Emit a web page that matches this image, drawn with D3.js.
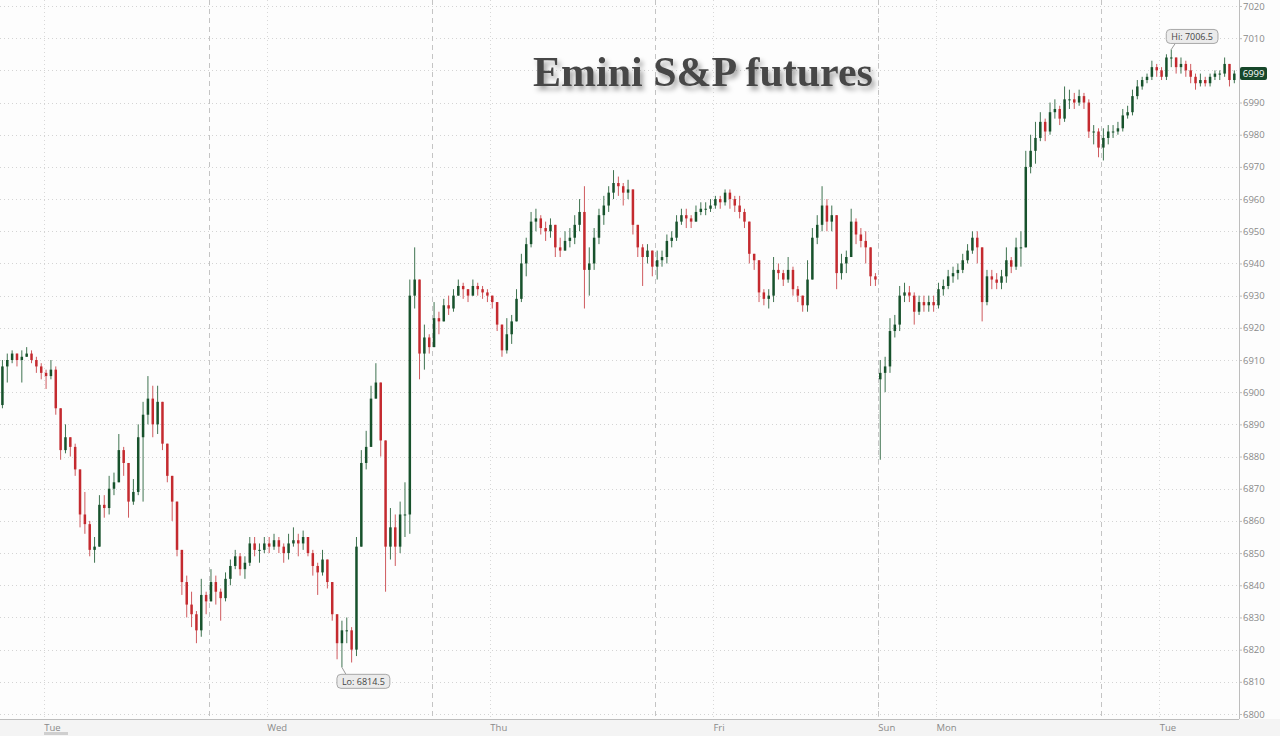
<!DOCTYPE html>
<html>
<head>
<meta charset="utf-8">
<script src="https://cdn.jsdelivr.net/npm/d3@7/dist/d3.min.js"></script>
<style>
  body { margin: 0; background: #fdfdfd; }
  svg { display: block; font-family: "Open Sans", "Noto Sans", sans-serif; }
</style>
</head>
<body>
<svg width="1280" height="736"></svg>
<script>
var svg = d3.select("svg"),
    width = +svg.attr("width"),
    height = +svg.attr("height");

// half-hour bars, Mon evening session -> Tue morning (gaps between sessions removed)
var closes = [
  6908,6910,6912,6910,6911,6912,6910,6908,6906,6905,6907,6895,6882,6886,6883,6876,6862,6859,6851,6852,6865,6864,6870,6872,6882,6878,6866,6869,6886,6893,6898,6890,6897,6884,6874,6866,6851,6841,6834,6831,6826,6837,6835,
  6841,6838,6836,6842,6846,6849,6845,6847,6853,6851,6851,6853,6852,6854,6852,6850,6853,6854,6853,6855,6850,6846,6844,6848,6841,6831,6822,6826,6826,6820,6852,6878,6883,6898,6903,6885,6852,6858,6852,6862,6862,6930,6935,6912,6917,6914,
  6923,6922,6927,6926,6930,6933,6932,6930,6933,6932,6931,6930,6928,6921,6913,6918,6922,6929,6940,6946,6953,6954,6951,6950,6952,6945,6944,6947,6948,6952,6956,6938,6940,6948,6955,6958,6962,6965,6964,6962,6963,6952,6945,6942,6944,6939,
  6941,6942,6947,6948,6953,6955,6954,6953,6956,6957,6957,6958,6960,6959,6962,6960,6958,6956,6953,6943,6941,6931,6929,6930,6938,6937,6935,6938,6932,6930,6927,6935,6948,6952,6958,6953,6955,6937,6940,6942,6953,6949,6947,6945,6936,6935,
  6906,6908,6919,6921,6930,6931,6930,6925,6928,6927,6928,6927,6932,6933,6936,6937,6938,6941,6944,6948,6945,6928,6936,6935,6934,6936,6941,6939,6945,6945,6970,6975,6979,6984,6981,6987,6988,6985,6991,6991,6990,6992,6990,6981,6981,6976,
  6979,6981,6981,6982,6986,6987,6992,6995,6997,6998,7001,7000,6998,7004,7004,7001,7002,7000,6998,6996,6997,6996,6998,6999,6999,7002,6997,6999
];
var highs = [
  6910,6912,6913,6912,6913,6914,6913,6911,6909,6907,6910,6908,6892,6890,6886,6884,6876,6869,6860,6855,6868,6868,6874,6875,6887,6883,6876,6873,6890,6897,6905,6902,6902,6897,6884,6872,6862,6850,6843,6838,6832,6842,6838,
  6845,6843,6839,6844,6848,6851,6850,6849,6855,6855,6853,6855,6855,6856,6855,6853,6856,6858,6856,6857,6855,6851,6847,6851,6847,6841,6830,6829,6830,6827,6855,6882,6888,6902,6909,6903,6870,6864,6862,6866,6872,6935,6945,6930,6921,6918,
  6928,6925,6929,6930,6932,6935,6934,6932,6935,6934,6933,6932,6930,6927,6920,6923,6924,6932,6943,6948,6956,6957,6955,6953,6954,6950,6948,6950,6951,6955,6960,6964,6945,6951,6957,6961,6964,6969,6967,6965,6966,6963,6950,6946,6946,6944,
  6944,6944,6949,6950,6955,6957,6957,6955,6958,6959,6959,6960,6961,6961,6963,6963,6961,6961,6957,6953,6943,6940,6932,6932,6942,6940,6938,6942,6939,6933,6930,6941,6951,6955,6964,6960,6958,6955,6943,6944,6957,6954,6951,6950,6942,6937,
  6910,6911,6923,6924,6933,6934,6933,6931,6930,6930,6930,6930,6934,6935,6938,6939,6940,6943,6946,6950,6950,6945,6938,6938,6937,6938,6945,6942,6948,6950,6975,6980,6984,6987,6985,6990,6991,6989,6995,6994,6993,6994,6993,6991,6983,6982,
  6982,6983,6983,6984,6988,6989,6994,6997,6998,6999,7003,7002,7001,7005,7006.5,7004,7004,7003,7002,6999,6999,6998,6999,7000,7000,7004,7001,7000
];
var lows = [
  6895,6903,6909,6908,6903,6911,6909,6906,6904,6901,6904,6893,6879,6881,6880,6874,6858,6856,6849,6847,6858,6861,6862,6868,6876,6874,6861,6865,6868,6866,6890,6886,6887,6882,6872,6860,6849,6837,6830,6827,6822,6824,6831,
  6836,6834,6829,6835,6840,6845,6843,6842,6846,6849,6847,6850,6850,6851,6850,6847,6848,6852,6849,6851,6849,6843,6837,6843,6839,6829,6817,6814.5,6822,6816,6818,6855,6876,6887,6900,6880,6838,6848,6846,6850,6855,6856,6926,6904,6907,6912,
  6914,6918,6922,6924,6925,6930,6929,6928,6930,6930,6929,6928,6926,6919,6911,6912,6915,6922,6928,6936,6945,6950,6949,6947,6948,6942,6942,6944,6945,6946,6950,6926,6930,6938,6946,6952,6956,6960,6961,6958,6960,6949,6942,6933,6940,6936,
  6935,6939,6940,6945,6947,6952,6951,6951,6953,6955,6955,6956,6957,6957,6958,6957,6956,6954,6951,6940,6938,6928,6927,6926,6928,6935,6933,6934,6930,6928,6925,6925,6935,6946,6950,6950,6950,6932,6935,6937,6942,6946,6945,6940,6933,6933,
  6879,6900,6906,6917,6919,6928,6928,6921,6924,6925,6925,6925,6926,6930,6932,6934,6935,6937,6940,6943,6940,6922,6927,6932,6932,6932,6934,6937,6938,6939,6950,6968,6971,6978,6978,6980,6985,6983,6984,6988,6988,6989,6988,6979,6977,6973,
  6972,6977,6979,6980,6981,6985,6986,6991,6994,6996,6997,6998,6997,6997,7001,6999,6999,6998,6996,6994,6995,6995,6995,6997,6997,6998,6995,6996
];
// opens after a gap (first bar, Sunday reopen); otherwise open = previous close
var gapOpens = [[0, 6896], [181, 6904]];

var dayLabels = ["Tue", "Wed", "Thu", "Fri", "Sun", "Mon", "Tue"];
var dayTicks  = [9, 55, 101, 147, 181, 193, 239];
var sessionStarts = [43, 89, 135, 181, 227];
var priceTicks = d3.range(6800, 7021, 10);
var lastPrice = 6999;
var title = "Emini S&P futures";

var gapMap = new Map(gapOpens);
var bars = closes.map(function(c, i) {
  var o = gapMap.has(i) ? gapMap.get(i) : closes[i - 1];
  return { i: i, o: o, c: c,
           h: Math.max(highs[i], o, c),
           l: Math.min(lows[i], o, c) };
});

var plotRight = 1239, plotBottom = 719;
var x = d3.scaleLinear().domain([0, 255]).range([0, 1236.75]);
var y = d3.scaleLinear().domain([6800, 7020]).range([714, 6]);

// bottom strip
svg.append("rect").attr("x", 0).attr("y", plotBottom).attr("width", width).attr("height", height - plotBottom)
  .attr("fill", "#f4f4f4");
svg.append("rect").attr("x", 44).attr("y", 732).attr("width", 24).attr("height", 3).attr("fill", "#cfcfcf");

// grid
var grid = svg.append("g");
grid.selectAll(".hg").data(priceTicks).enter().append("line")
  .attr("x1", 0).attr("x2", plotRight)
  .attr("y1", function(d) { return Math.round(y(d)) + 0.5; })
  .attr("y2", function(d) { return Math.round(y(d)) + 0.5; })
  .attr("stroke", "#d4d4d4").attr("stroke-dasharray", "1,3");
grid.selectAll(".vg").data(dayTicks).enter().append("line")
  .attr("x1", function(d) { return Math.round(x(d)) + 0.5; })
  .attr("x2", function(d) { return Math.round(x(d)) + 0.5; })
  .attr("y1", 0).attr("y2", plotBottom)
  .attr("stroke", "#d8d8d8").attr("stroke-dasharray", "1,3");
grid.selectAll(".sg").data(sessionStarts).enter().append("line")
  .attr("x1", function(d) { return Math.round(x(d)) + 0.5; })
  .attr("x2", function(d) { return Math.round(x(d)) + 0.5; })
  .attr("y1", 0).attr("y2", plotBottom)
  .attr("stroke", "#c4c4c4").attr("stroke-dasharray", "5,4");

// title with shadow
var defs = svg.append("defs");
var f = defs.append("filter").attr("id", "shadow").attr("x", "-10%").attr("y", "-30%").attr("width", "120%").attr("height", "170%");
f.append("feDropShadow").attr("dx", 3).attr("dy", 4).attr("stdDeviation", 2.5)
  .attr("flood-color", "#000").attr("flood-opacity", 0.35);
svg.append("text")
  .attr("x", 703).attr("y", 86)
  .attr("text-anchor", "middle")
  .attr("font-family", "'Liberation Serif', 'DejaVu Serif', serif")
  .attr("font-weight", "bold")
  .attr("font-size", 42)
  .attr("fill", "#474747")
  .attr("filter", "url(#shadow)")
  .text(title);

// candles
var up = "#17522c", down = "#c42a2f";
var candles = svg.append("g").selectAll("g").data(bars).enter().append("g");
candles.append("line")
  .attr("x1", function(d) { return x(d.i + 0.5); })
  .attr("x2", function(d) { return x(d.i + 0.5); })
  .attr("y1", function(d) { return y(d.h); })
  .attr("y2", function(d) { return y(d.l); })
  .attr("stroke", function(d) { return d.c >= d.o ? "#3f7350" : "#cf5a5e"; })
  .attr("stroke-width", 1);
candles.append("rect")
  .attr("x", function(d) { return x(d.i + 0.5) - 1.25; })
  .attr("width", 2.5)
  .attr("y", function(d) { return y(Math.max(d.o, d.c)); })
  .attr("height", function(d) { return Math.max(1, Math.abs(y(d.o) - y(d.c))); })
  .attr("fill", function(d) { return d.c >= d.o ? up : down; });

// axes (tick labels under the last-price tag are hidden, as in the reference)
var yAxis = d3.axisRight(y).tickValues(priceTicks).tickSize(3).tickFormat(d3.format("d"));
var ya = svg.append("g").attr("transform", "translate(" + plotRight + ",0)").call(yAxis);
ya.select(".domain").attr("d", "M0.5,0V" + plotBottom).attr("stroke", "#bdbdbd");
ya.selectAll(".tick line").attr("stroke", "#bdbdbd");
ya.selectAll(".tick text").attr("x", 4).attr("fill", "#8a8a8a").attr("font-size", 9.5)
  .attr("font-family", "'Open Sans', sans-serif")
  .style("display", function(d) { return Math.abs(y(d) - y(lastPrice)) < 12 ? "none" : null; });

var xAxis = d3.axisBottom(x).tickValues(dayTicks).tickSize(0)
  .tickFormat(function(d, i) { return dayLabels[i]; });
var xa = svg.append("g").attr("transform", "translate(0," + plotBottom + ")").call(xAxis);
xa.select(".domain").attr("d", "M0,0.5H" + plotRight).attr("stroke", "#bdbdbd");
xa.selectAll(".tick text").attr("text-anchor", "start").attr("x", 0).attr("dy", 0).attr("y", 11.5)
  .attr("fill", "#8a8a8a").attr("font-size", 9.5).attr("font-family", "'Open Sans', sans-serif");

// hi / lo callouts
var hiBar = bars.reduce(function(a, b) { return b.h > a.h ? b : a; });
var loBar = bars.reduce(function(a, b) { return b.l < a.l ? b : a; });
function callout(bar, val, label, above) {
  var px = x(bar.i + 0.5), py = y(val);
  var bh = 14;
  var g = svg.append("g");
  var line = g.append("line").attr("stroke", "#9a9a9a");
  var rect = g.append("rect").attr("height", bh).attr("rx", 4)
    .attr("fill", "#ebebeb").attr("stroke", "#a8a8a8");
  var t = g.append("text").attr("text-anchor", "middle")
    .attr("font-size", 9).attr("fill", "#444").text(label);
  var bw = t.node().getComputedTextLength() + 10;
  var bx = px - 5, by = above ? py - 20 : py + 7;
  line.attr("x1", px).attr("y1", py).attr("x2", px + 4).attr("y2", above ? by + bh : by);
  rect.attr("x", bx).attr("y", by).attr("width", bw);
  t.attr("x", bx + bw / 2).attr("y", by + 10.5);
}
callout(hiBar, hiBar.h, "Hi: " + d3.format(".1f")(hiBar.h), true);
callout(loBar, loBar.l, "Lo: " + d3.format(".1f")(loBar.l), false);

// last price tag
var lp = svg.append("g").attr("transform", "translate(" + (plotRight + 1) + "," + y(lastPrice) + ")");
lp.append("rect").attr("x", 0).attr("y", -6.5).attr("width", 27).attr("height", 13).attr("rx", 2)
  .attr("fill", "#17472a");
lp.append("text").attr("x", 13.5).attr("y", 3.5).attr("text-anchor", "middle")
  .attr("font-size", 9.5).attr("fill", "#fff").text(lastPrice);
</script>
</body>
</html>
